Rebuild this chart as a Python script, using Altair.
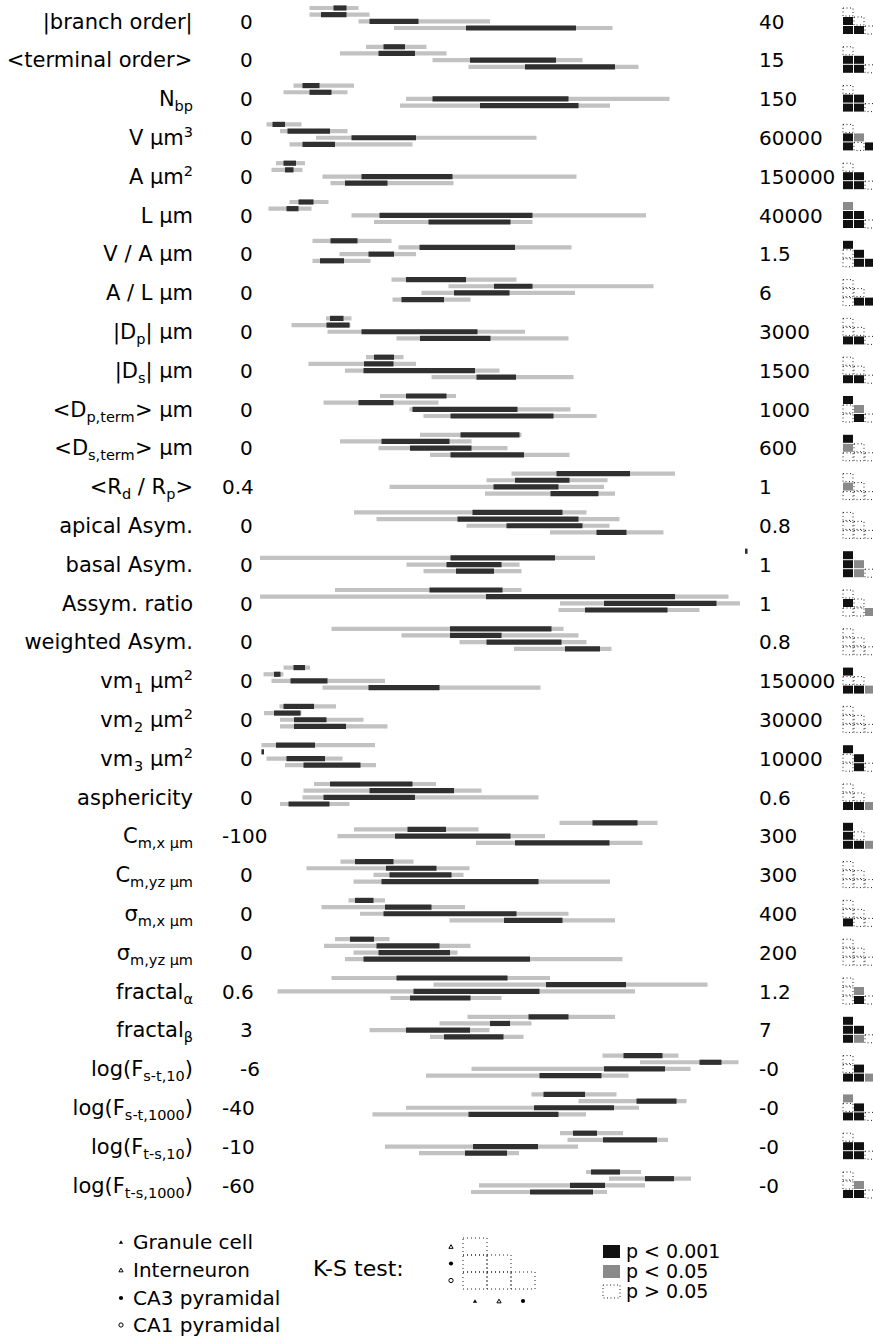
import altair as alt
import pandas as pd

# ---------------- data ----------------
# label segments: (text, kind) with kind n = normal, sub = subscript, sup = superscript
row_labels = [
    [("|branch order|", "n")],
    [("<terminal order>", "n")],
    [("N", "n"), ("bp", "sub")],
    [("V µm", "n"), ("3", "sup")],
    [("A µm", "n"), ("2", "sup")],
    [("L µm", "n")],
    [("V / A µm", "n")],
    [("A / L µm", "n")],
    [("|D", "n"), ("p", "sub"), ("| µm", "n")],
    [("|D", "n"), ("s", "sub"), ("| µm", "n")],
    [("<D", "n"), ("p,term", "sub"), ("> µm", "n")],
    [("<D", "n"), ("s,term", "sub"), ("> µm", "n")],
    [("<R", "n"), ("d", "sub"), (" / R", "n"), ("p", "sub"), (">", "n")],
    [("apical Asym.", "n")],
    [("basal Asym.", "n")],
    [("Assym. ratio", "n")],
    [("weighted Asym.", "n")],
    [("vm", "n"), ("1", "sub"), (" µm", "n"), ("2", "sup")],
    [("vm", "n"), ("2", "sub"), (" µm", "n"), ("2", "sup")],
    [("vm", "n"), ("3", "sub"), (" µm", "n"), ("2", "sup")],
    [("asphericity", "n")],
    [("C", "n"), ("m,x µm", "sub")],
    [("C", "n"), ("m,yz µm", "sub")],
    [("σ", "n"), ("m,x µm", "sub")],
    [("σ", "n"), ("m,yz µm", "sub")],
    [("fractal", "n"), ("α", "sub")],
    [("fractal", "n"), ("β", "sub")],
    [("log(F", "n"), ("s-t,10", "sub"), (")", "n")],
    [("log(F", "n"), ("s-t,1000", "sub"), (")", "n")],
    [("log(F", "n"), ("t-s,10", "sub"), (")", "n")],
    [("log(F", "n"), ("t-s,1000", "sub"), (")", "n")],
]

min_labels = ["0", "0", "0", "0", "0", "0", "0", "0", "0", "0", "0", "0", "0.4", "0", "0",
              "0", "0", "0", "0", "0", "0", "-100", "0", "0", "0", "0.6", "3", "-6", "-40",
              "-10", "-60"]
max_labels = ["40", "15", "150", "60000", "150000", "40000", "1.5", "6", "3000", "1500",
              "1000", "600", "1", "0.8", "1", "1", "0.8", "150000", "30000", "10000", "0.6",
              "300", "300", "400", "200", "1.2", "7", "-0", "-0", "-0", "-0"]

# per cell type and row: (light start, dark start, dark end, light end), in % of the row's range
granule = [
    (11.9, 16.7, 19.3, 21.7), (23.2, 26.7, 31.0, 35.3), (8.7, 10.5, 13.9, 20.8),
    (3.3, 4.5, 7.0, 10.3), (5.2, 6.7, 9.2, 11.0), (7.9, 9.7, 12.7, 15.7),
    (12.5, 16.1, 21.5, 28.3), (28.3, 31.2, 43.2, 53.3), (15.2, 16.0, 18.7, 20.3),
    (23.2, 24.8, 28.8, 30.7), (26.0, 31.2, 39.3, 41.2), (34.0, 42.1, 53.9, 54.3),
    (52.3, 61.3, 76.0, 85.0), (20.8, 44.5, 62.5, 67.3), (99.0, 99.0, 99.5, 99.5),
    (17.0, 35.9, 50.5, 54.3), (16.3, 40.0, 60.3, 62.7), (6.7, 8.7, 11.0, 12.0),
    (5.9, 6.7, 12.8, 17.2), (2.3, 5.2, 13.0, 25.0), (12.8, 16.0, 32.5, 37.2),
    (61.9, 68.5, 77.5, 81.5), (18.1, 21.0, 28.7, 32.7), (19.7, 21.0, 24.7, 27.0),
    (17.0, 20.0, 24.8, 27.9), (16.3, 29.3, 51.5, 60.0), (43.5, 55.7, 63.7, 73.0),
    (70.5, 74.7, 82.5, 85.7), (56.3, 58.7, 67.0, 73.3), (62.0, 64.6, 69.4, 74.6),
    (67.2, 68.2, 74.0, 78.2),
]
interneuron = [
    (11.9, 14.2, 19.3, 23.9), (18.0, 25.7, 33.0, 39.3), (6.7, 11.9, 16.3, 19.5),
    (6.0, 7.5, 16.0, 19.5), (4.3, 7.0, 8.7, 10.5), (3.7, 7.3, 9.7, 12.3),
    (29.7, 33.9, 53.0, 64.3), (39.7, 48.8, 56.5, 80.7), (8.3, 15.3, 19.9, 20.1),
    (11.7, 22.8, 28.7, 33.2), (14.7, 21.7, 28.7, 37.7), (18.0, 26.3, 39.9, 44.3),
    (47.3, 53.0, 63.9, 71.5), (25.3, 41.5, 65.7, 73.9), (2.0, 40.1, 61.0, 69.0),
    (2.0, 47.2, 85.0, 95.7), (30.3, 40.0, 50.3, 65.7), (2.7, 4.8, 6.1, 6.7),
    (2.8, 4.8, 10.1, 10.3), (2.3, 2.3, 2.8, 2.8), (10.7, 23.9, 40.8, 46.3),
    (20.8, 31.5, 39.2, 45.7), (11.3, 27.2, 37.3, 43.9), (14.3, 27.0, 36.3, 43.0),
    (14.8, 25.3, 37.9, 44.1), (36.7, 59.2, 75.2, 91.5), (37.9, 48.0, 52.0, 56.3),
    (78.0, 89.9, 94.3, 97.7), (65.7, 77.3, 85.3, 87.3), (63.5, 70.6, 81.4, 83.6),
    (71.8, 79.0, 84.8, 88.2),
]
ca3 = [
    (21.7, 23.9, 33.7, 48.0), (36.5, 44.0, 61.2, 66.5), (31.2, 36.5, 63.7, 83.9),
    (13.2, 20.3, 33.2, 57.3), (14.5, 22.3, 40.5, 65.3), (20.3, 25.9, 56.5, 79.2),
    (17.9, 23.7, 28.8, 33.2), (34.3, 40.8, 51.9, 65.0), (15.5, 22.3, 45.5, 55.0),
    (19.0, 22.7, 45.0, 49.9), (31.9, 32.5, 53.5, 64.1), (25.7, 32.0, 44.3, 51.5),
    (27.9, 48.7, 61.7, 70.8), (43.3, 51.3, 66.5, 71.9), (31.3, 39.3, 50.3, 53.9),
    (62.0, 70.8, 93.3, 98.0), (41.9, 47.3, 62.3, 67.3), (4.3, 8.1, 15.5, 27.0),
    (6.0, 8.8, 15.3, 22.7), (3.3, 7.3, 15.0, 18.5), (10.5, 14.7, 33.0, 57.7),
    (17.5, 29.0, 52.1, 59.0), (24.7, 27.9, 40.3, 42.7), (22.0, 26.7, 53.3, 63.7),
    (20.7, 25.7, 40.0, 41.5), (5.5, 32.7, 57.9, 77.0), (23.9, 31.2, 44.0, 47.9),
    (44.3, 70.8, 83.0, 88.1), (31.2, 56.8, 72.8, 77.8), (27.0, 44.6, 57.6, 65.6),
    (45.8, 64.0, 71.0, 79.0),
]
ca1 = [
    (28.8, 43.2, 65.2, 72.5), (43.7, 55.0, 73.0, 77.7), (30.0, 46.0, 65.7, 72.0),
    (7.9, 10.5, 17.0, 32.5), (16.1, 19.0, 27.5, 40.7), (24.8, 35.7, 52.1, 56.5),
    (12.5, 14.0, 18.8, 24.1), (28.5, 30.3, 38.8, 44.1), (29.3, 34.0, 48.1, 63.7),
    (36.3, 45.3, 53.2, 64.7), (34.7, 40.1, 60.7, 69.3), (36.0, 40.1, 54.8, 63.9),
    (47.0, 60.1, 69.7, 73.0), (60.0, 69.3, 75.3, 82.7), (34.7, 41.2, 48.8, 54.3),
    (61.7, 67.0, 83.5, 89.9), (52.8, 63.0, 70.0, 72.3), (14.5, 23.7, 37.9, 58.1),
    (6.0, 8.8, 19.2, 27.5), (7.0, 10.7, 22.1, 25.2), (6.0, 7.7, 15.9, 19.9),
    (45.2, 53.0, 71.9, 78.5), (20.7, 26.3, 57.7, 72.0), (39.9, 50.8, 62.5, 73.0),
    (19.0, 22.7, 56.0, 74.5), (28.1, 32.0, 44.1, 50.3), (36.0, 38.8, 50.7, 54.7),
    (35.2, 57.9, 70.3, 75.7), (24.5, 43.7, 61.7, 67.2), (33.8, 43.0, 51.4, 53.8),
    (44.2, 56.0, 68.6, 71.4),
]

# K-S test matrix per row: cells (IN-GC | CA3-GC, CA3-IN | CA1-GC, CA1-IN, CA1-CA3)
# B = p < 0.001, G = p < 0.05, D = p > 0.05
ks_codes = [
    "DBDBBD", "DBBBBD", "DBBBBD", "DBGBDB", "DBBBBD", "GBBBBD", "BDBDBB", "DDDDBB",
    "DDDBBD", "DDDBBD", "BDGDBD", "BGDDDD", "DGDDDD", "DDDDDD", "BBGBGD", "DBDDDG",
    "DDDDDD", "BDDBBG", "DDDDDD", "BDBDBD", "DDDBBG", "BBDBBG", "DDDDDD", "DDDBDD",
    "DDDDDD", "DDGDBD", "BBBBGD", "DDBBBG", "GDBBBD", "DBBBBD", "DDGBBD",
]

cell_types = ["Granule cell", "Interneuron", "CA3 pyramidal", "CA1 pyramidal"]
ks_levels = ["p < 0.001", "p < 0.05", "p > 0.05"]

# ---------------- layout helpers ----------------
W, H = 873, 1336
FONT = "DejaVu Sans"
X0_PX, PX_PER_UNIT = 250.0, 5.0
Y0_PX, ROW_PX = 18.0, 38.8


def ux(px):
    return (px - X0_PX) / PX_PER_UNIT


def uy(py):
    return (py - Y0_PX) / ROW_PX


xs = alt.Scale(domain=[ux(0), ux(W)], range=[0, W], nice=False, zero=False)
ys = alt.Scale(domain=[uy(0), uy(H)], range=[0, H], nice=False, zero=False)

LIGHT, DARK, MID = "#c2c2c2", "#303030", "#8a8a8a"

# ---------------- bars ----------------
bar_rows = []
for j, series in enumerate([granule, interneuron, ca3, ca1]):
    for k, vals in enumerate(series):
        lo, q1, q3, hi = vals
        yc = k + (j - 1.5) * 6.67 / ROW_PX
        bar_rows.append(dict(row=k, cell=cell_types[j], lo=lo, q1=q1, q3=q3, hi=hi, yc=yc))
bars = pd.DataFrame(bar_rows)

base = alt.Chart(bars)
light = base.mark_rect(color=LIGHT).encode(
    x=alt.X("lo:Q", scale=xs, axis=None), x2="hi:Q",
    y=alt.Y("y0:Q", scale=ys, axis=None), y2="y1:Q",
).transform_calculate(y0=f"datum.yc - {2.1 / ROW_PX}", y1=f"datum.yc + {2.1 / ROW_PX}")
dark = base.mark_rect(color=DARK).encode(
    x=alt.X("q1:Q", scale=xs, axis=None), x2="q3:Q",
    y=alt.Y("y0:Q", scale=ys, axis=None), y2="y1:Q",
).transform_calculate(y0=f"datum.yc - {2.6 / ROW_PX}", y1=f"datum.yc + {2.6 / ROW_PX}")

# ---------------- K-S glyphs ----------------
cell_rc = [(0, 0), (1, 0), (1, 1), (2, 0), (2, 1), (2, 2)]
LEVEL = {"B": ks_levels[0], "G": ks_levels[1], "D": ks_levels[2]}
ks_rows = []
for k, code in enumerate(ks_codes):
    for (r, c), ch in zip(cell_rc, code):
        top_px = Y0_PX + ROW_PX * k - 10 + 9 * r
        left_px = 843 + 11 * c
        ks_rows.append(dict(row=k, level=LEVEL[ch],
                            x0=ux(left_px), x1=ux(left_px + 10), y0=uy(top_px), y1=uy(top_px + 8)))
ks = pd.DataFrame(ks_rows)

fill_scale = alt.Scale(domain=ks_levels[:2], range=["#111111", MID])


def filled_cells(df):
    return alt.Chart(df).transform_filter(f"datum.level != '{ks_levels[2]}'").mark_rect().encode(
        x=alt.X("x0:Q", scale=xs, axis=None), x2="x1:Q",
        y=alt.Y("y0:Q", scale=ys, axis=None), y2="y1:Q",
        color=alt.Color("level:N", scale=fill_scale, legend=None),
    )


def dotted_cells(df, dash):
    return alt.Chart(df).transform_filter(f"datum.level == '{ks_levels[2]}'").mark_rect(
        filled=False, stroke="#222222", strokeWidth=1, strokeDash=dash
    ).encode(
        x=alt.X("x0:Q", scale=xs, axis=None), x2="x1:Q",
        y=alt.Y("y0:Q", scale=ys, axis=None), y2="y1:Q",
    )


ks_fill = filled_cells(ks)
ks_dot = dotted_cells(ks, [1, 2.5])

# ---------------- row labels (with sub/superscripts) ----------------
DW = {' ': 318, '|': 337, '<': 838, '>': 838, '(': 390, ')': 390, ',': 318, '-': 361,
      '.': 318, '/': 337, 'A': 684, 'C': 698, 'D': 770, 'F': 575, 'L': 557, 'N': 748, 'R': 695,
      'V': 684, 'a': 613, 'b': 635, 'c': 550, 'd': 635, 'e': 615, 'f': 352, 'g': 635, 'h': 634,
      'i': 278, 'k': 579, 'l': 278, 'm': 974, 'n': 634, 'o': 612, 'p': 635, 'r': 411, 's': 521,
      't': 392, 'w': 818, 'x': 592, 'y': 592, 'z': 525, 'u': 634, 'µ': 636, 'σ': 635, 'α': 659,
      'β': 638}
SIZE = {"n": 21, "sub": 14.5, "sup": 14.5}
DY = {"n": 0, "sub": 5, "sup": -8}


def text_w(s, size):
    return sum(DW.get(ch, 636) for ch in s) * size / 1000.0


LABEL_RIGHT = 193
BASE_OFF = 10.5 / ROW_PX
seg_rows = []
for k, segs in enumerate(row_labels):
    total = sum(text_w(t, SIZE[kind]) for t, kind in segs)
    xpx = LABEL_RIGHT - total
    for t, kind in segs:
        shown = t.lstrip(" ")
        lead = text_w(t[: len(t) - len(shown)], SIZE[kind])  # SVG drops leading blanks
        seg_rows.append(dict(row=k, text=shown, kind=kind, x=ux(xpx + lead), y=k + BASE_OFF))
        xpx += text_w(t, SIZE[kind])
segs_df = pd.DataFrame(seg_rows)

label_layers = []
for kind in ["n", "sub", "sup"]:
    label_layers.append(
        alt.Chart(segs_df).transform_filter(f"datum.kind == '{kind}'").mark_text(
            align="left", baseline="alphabetic", font=FONT, fontSize=SIZE[kind], dy=DY[kind], color="black"
        ).encode(x=alt.X("x:Q", scale=xs, axis=None), y=alt.Y("y:Q", scale=ys, axis=None), text="text:N")
    )

ends = pd.DataFrame(dict(row=list(range(len(min_labels))), mn=min_labels, mx=max_labels))
min_text = alt.Chart(ends).transform_calculate(
    x=f"length(datum.mn) >= 3 ? {ux(222)} : {ux(240)}", y=f"datum.row + {BASE_OFF}"
).mark_text(align="left", baseline="alphabetic", font=FONT, fontSize=20, color="black").encode(
    x=alt.X("x:Q", scale=xs, axis=None), y=alt.Y("y:Q", scale=ys, axis=None), text="mn:N")
max_text = alt.Chart(ends).transform_calculate(
    x=f"{ux(759)}", y=f"datum.row + {BASE_OFF}"
).mark_text(align="left", baseline="alphabetic", font=FONT, fontSize=20, color="black").encode(
    x=alt.X("x:Q", scale=xs, axis=None), y=alt.Y("y:Q", scale=ys, axis=None), text="mx:N")

# ---------------- bottom legend ----------------
MARK = {cell_types[0]: ("triangle-up", True), cell_types[1]: ("triangle-up", False),
        cell_types[2]: ("circle", True), cell_types[3]: ("circle", False)}

leg_y = [1242, 1270, 1298, 1325]
leg_rows = [dict(cell=c, x=ux(121), y=uy(py), tx=ux(133), ty=uy(py + 7)) for c, py in zip(cell_types, leg_y)]

MX0, MY0, CW, CH = 463, 1238, 24, 17
mat_rows = []
for r, c in cell_rc:
    mat_rows.append(dict(level=ks_levels[2], x0=ux(MX0 + CW * c), x1=ux(MX0 + CW * (c + 1)),
                         y0=uy(MY0 + CH * r), y1=uy(MY0 + CH * (r + 1))))
mat_df = pd.DataFrame(mat_rows)
marker_rows = [dict(cell=r["cell"], x=r["x"], y=r["y"]) for r in leg_rows]
for i, c in enumerate(cell_types[1:]):
    marker_rows.append(dict(cell=c, x=ux(MX0 - 12), y=uy(MY0 + CH * (i + 0.5))))
for i, c in enumerate(cell_types[:3]):
    marker_rows.append(dict(cell=c, x=ux(MX0 + CW * (i + 0.5)), y=uy(MY0 + 3 * CH + 12)))
markers = pd.DataFrame(marker_rows)

marker_layers = []
for c in cell_types:
    shape, filled = MARK[c]
    marker_layers.append(
        alt.Chart(markers).transform_filter(alt.datum.cell == c).mark_point(
            shape=shape, filled=filled, size=18, color="black", strokeWidth=1, opacity=1
        ).encode(x=alt.X("x:Q", scale=xs, axis=None), y=alt.Y("y:Q", scale=ys, axis=None))
    )

leg_text = alt.Chart(pd.DataFrame(leg_rows)).mark_text(
    align="left", baseline="alphabetic", font=FONT, fontSize=20, color="black"
).encode(x=alt.X("tx:Q", scale=xs, axis=None), y=alt.Y("ty:Q", scale=ys, axis=None), text="cell:N")

ks_title = alt.Chart(pd.DataFrame([dict(t="K-S test:", x=ux(313), y=uy(1276))])).mark_text(
    align="left", baseline="alphabetic", font=FONT, fontSize=22, color="black"
).encode(x=alt.X("x:Q", scale=xs, axis=None), y=alt.Y("y:Q", scale=ys, axis=None), text="t:N")

mat_layer = dotted_cells(mat_df, [1, 3])

sw_rows = []
for i, lev in enumerate(ks_levels):
    top = 1245 + 20 * i
    sw_rows.append(dict(level=lev, x0=ux(603), x1=ux(620), y0=uy(top), y1=uy(top + 13),
                        tx=ux(626), ty=uy(top + 13)))
sw = pd.DataFrame(sw_rows)
sw_fill = filled_cells(sw)
sw_dot = dotted_cells(sw, [1, 2.5])
sw_text = alt.Chart(sw).mark_text(align="left", baseline="alphabetic", font=FONT, fontSize=19, color="black").encode(
    x=alt.X("tx:Q", scale=xs, axis=None), y=alt.Y("ty:Q", scale=ys, axis=None), text="level:N")

chart = alt.layer(
    light, dark, ks_fill, ks_dot, *label_layers, min_text, max_text,
    *marker_layers, leg_text, ks_title, mat_layer, sw_fill, sw_dot, sw_text,
).resolve_scale(color="independent").properties(
    width=W, height=H, padding=0, autosize=alt.AutoSizeParams(type="none"),
    background="white",
).configure_view(stroke=None)

chart.save("out.html", embed_options={"renderer": "svg", "actions": False})
